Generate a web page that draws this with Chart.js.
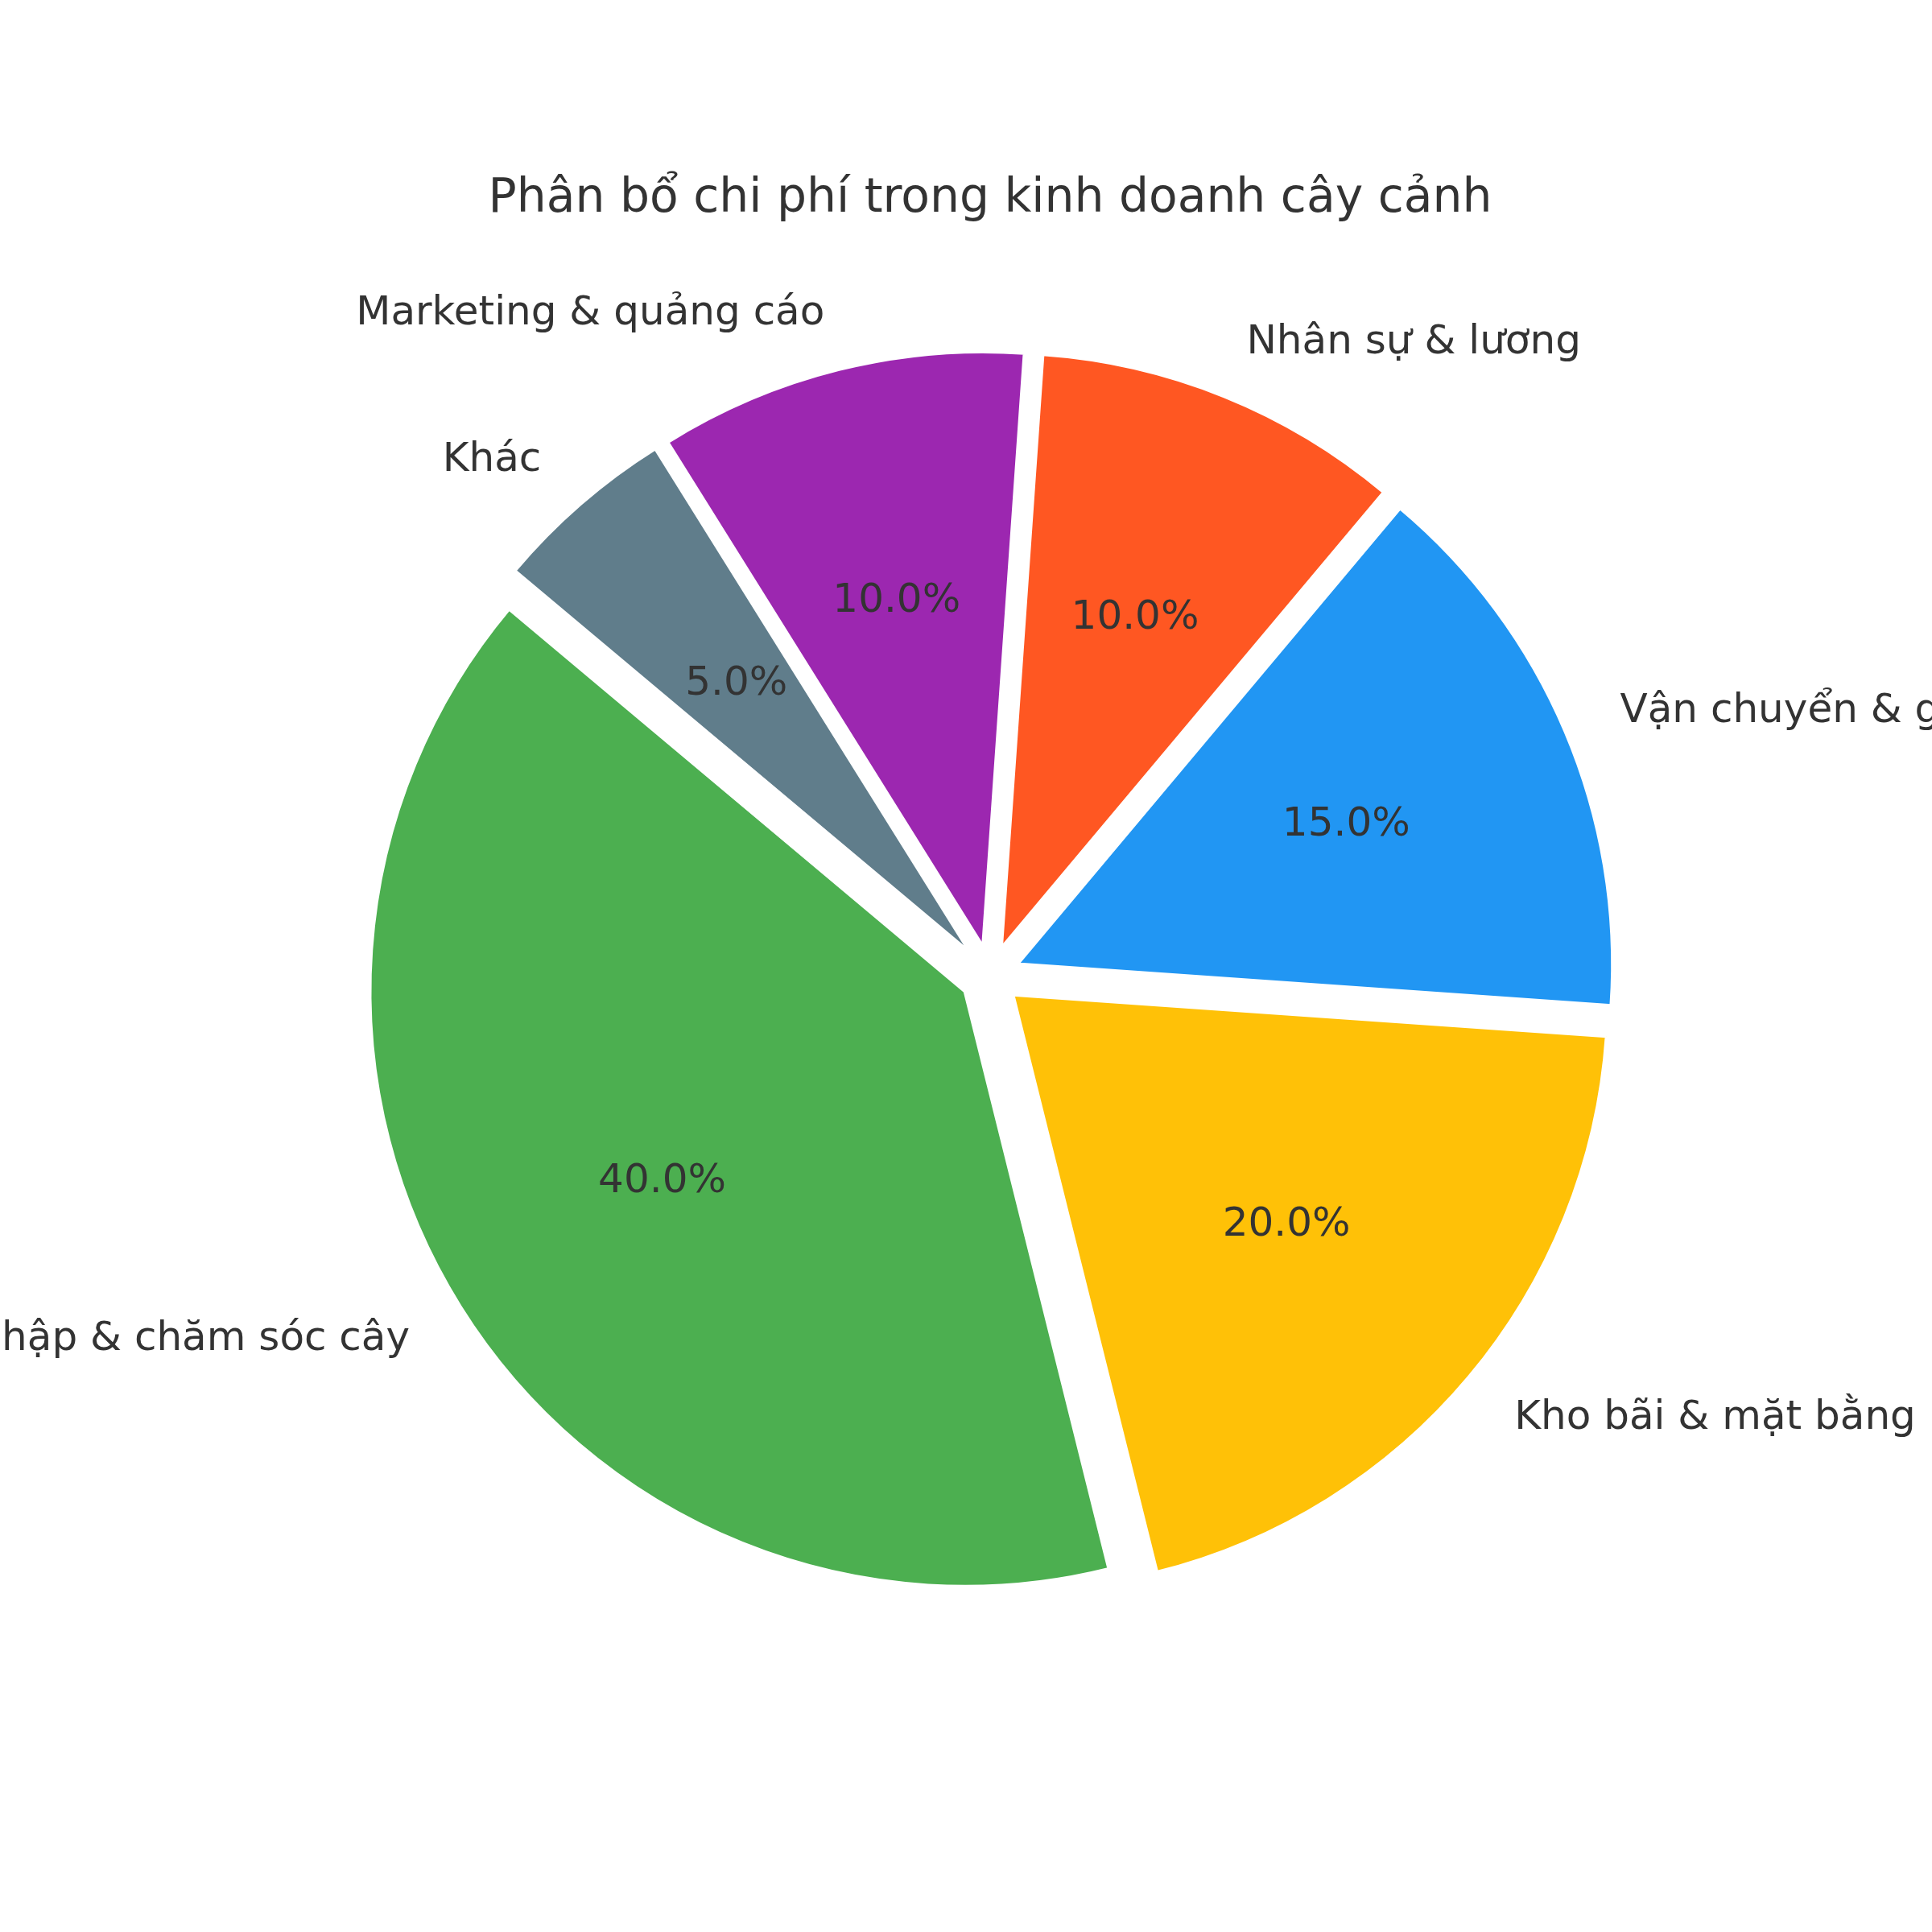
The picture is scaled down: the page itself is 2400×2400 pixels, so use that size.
<!DOCTYPE html>
<html>
<head>
<meta charset="utf-8">
<script src="https://cdn.jsdelivr.net/npm/chart.js@4.4.1/dist/chart.umd.min.js"></script>
<style>
  html, body { margin: 0; padding: 0; background: #ffffff; }
  canvas { display: block; }
</style>
</head>
<body>
<canvas id="chart" width="2400" height="2400"></canvas>
<script>
// ---- data (matplotlib order, counter-clockwise from start angle) ----
const chartTitle = 'Phân bổ chi phí trong kinh doanh cây cảnh';
const categories = [
  'Nhập & chăm sóc cây',
  'Kho bãi & mặt bằng',
  'Vận chuyển & giao hàng',
  'Nhân sự & lương',
  'Marketing & quảng cáo',
  'Khác'
];
const shares = [40, 20, 15, 10, 10, 5];
const sliceColors = ['#4CAF50', '#FFC107', '#2196F3', '#FF5722', '#9C27B0', '#607D8B'];

// ---- style ----
const FONT = '"DejaVu Sans", "Noto Sans", sans-serif';
const TEXT_COLOR = '#333333';
const EXPLODE = 0.05;
const LABEL_DIST = 1.1;
const PCT_DIST = 0.6;
const LABEL_SIZE = 50;
const TITLE_SIZE = 58.33;
const START_ANGLE = 140; // degrees, counter-clockwise from +x

// Chart.js draws clockwise: reverse the order and convert the start angle
const cjsLabels = categories.slice().reverse();
const cjsValues = shares.slice().reverse();
const cjsColors = sliceColors.slice().reverse();
const cjsRotation = 90 - START_ANGLE;

const total = shares.reduce((a, b) => a + b, 0);

const explodePlugin = {
  id: 'explodeSlices',
  afterDatasetUpdate(chart, args) {
    const meta = chart.getDatasetMeta(args.index);
    meta.data.forEach(arc => {
      const mid = (arc.startAngle + arc.endAngle) / 2;
      const d = EXPLODE * arc.outerRadius;
      arc.x += Math.cos(mid) * d;
      arc.y += Math.sin(mid) * d;
    });
  }
};

function vCenterBaseline(ctx, text, y) {
  const m = ctx.measureText(text);
  const lp = ctx.measureText('lp');
  const asc = Math.max(m.actualBoundingBoxAscent, lp.actualBoundingBoxAscent);
  const desc = Math.max(m.actualBoundingBoxDescent, lp.actualBoundingBoxDescent);
  return y + (asc - desc) / 2;
}

const labelPlugin = {
  id: 'pieLabels',
  afterDatasetsDraw(chart) {
    const ctx = chart.ctx;
    const meta = chart.getDatasetMeta(0);
    const values = chart.data.datasets[0].data;
    const labels = chart.data.labels;
    ctx.save();
    ctx.fillStyle = TEXT_COLOR;
    ctx.font = LABEL_SIZE + 'px ' + FONT;
    ctx.textBaseline = 'alphabetic';
    meta.data.forEach((arc, i) => {
      const mid = (arc.startAngle + arc.endAngle) / 2;
      const R = arc.outerRadius;
      const c = Math.cos(mid), s = Math.sin(mid);
      // outer category label
      const lx = arc.x + c * LABEL_DIST * R;
      const ly = arc.y + s * LABEL_DIST * R;
      ctx.textAlign = c > 0 ? 'left' : 'right';
      ctx.fillText(labels[i], lx, vCenterBaseline(ctx, labels[i], ly));
      // percentage label
      const pct = (values[i] / total * 100).toFixed(1) + '%';
      const px = arc.x + c * PCT_DIST * R;
      const py = arc.y + s * PCT_DIST * R;
      ctx.textAlign = 'center';
      ctx.fillText(pct, px, vCenterBaseline(ctx, pct, py));
    });
    // title
    ctx.font = TITLE_SIZE + 'px ' + FONT;
    ctx.textAlign = 'center';
    ctx.textBaseline = 'alphabetic';
    const ca = chart.chartArea;
    ctx.fillText(chartTitle, (ca.left + ca.right) / 2, 263);
    ctx.restore();
  }
};

new Chart(document.getElementById('chart'), {
  type: 'pie',
  data: {
    labels: cjsLabels,
    datasets: [{
      data: cjsValues,
      backgroundColor: cjsColors,
      borderColor: '#ffffff',
      borderWidth: 4,
      borderJoinStyle: 'miter',
      hoverOffset: 0
    }]
  },
  options: {
    responsive: false,
    animation: false,
    events: [],
    rotation: cjsRotation,
    radius: 739.2,
    layout: { padding: { left: 60, right: 0, top: 24, bottom: 0 } },
    plugins: {
      legend: { display: false },
      title: { display: false },
      tooltip: { enabled: false }
    }
  },
  plugins: [explodePlugin, labelPlugin]
});
</script>
</body>
</html>
